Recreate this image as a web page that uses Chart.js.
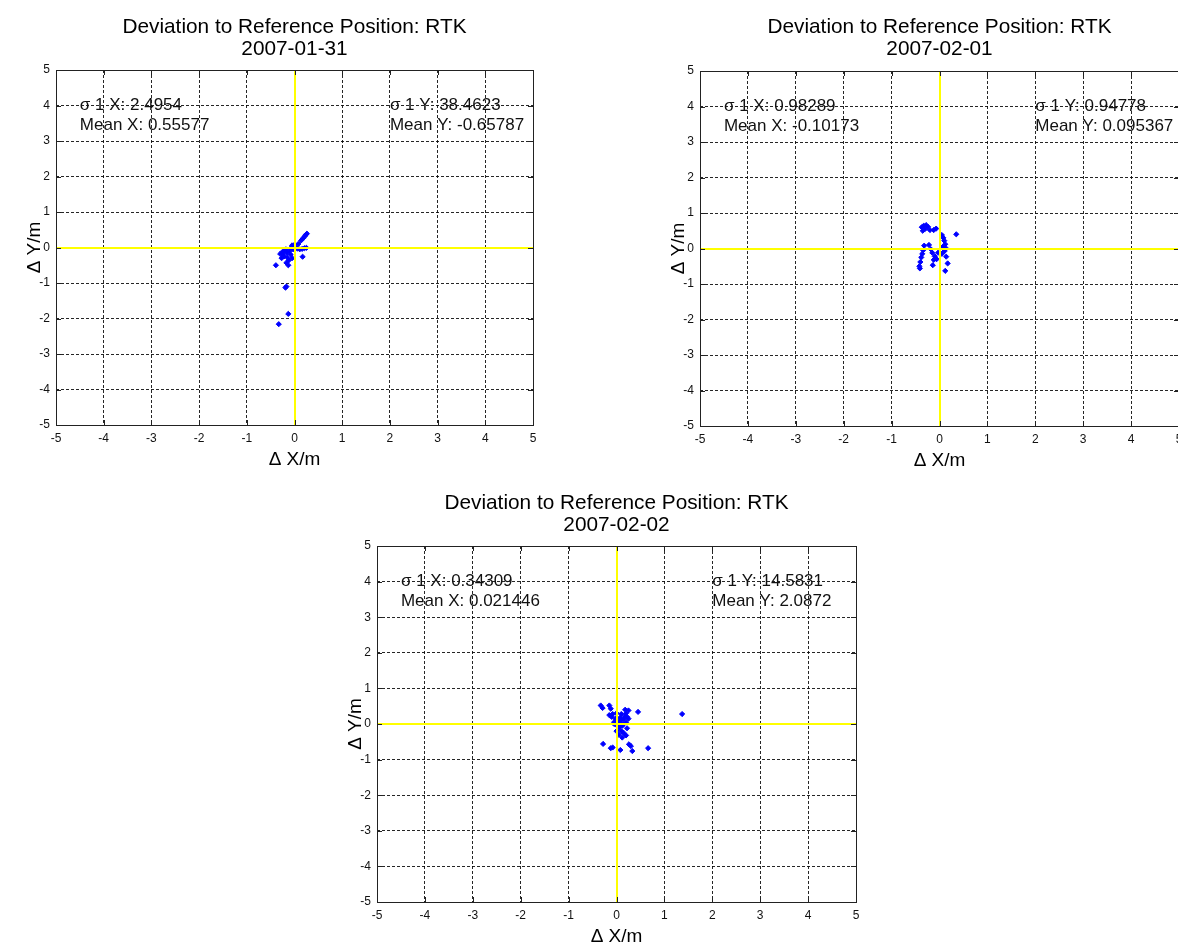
<!DOCTYPE html>
<html>
<head>
<meta charset="utf-8">
<script src="https://cdn.jsdelivr.net/npm/chart.js@4.4.0/dist/chart.umd.min.js"></script>
<style>
  html, body { margin: 0; padding: 0; background: #fff; overflow: hidden; }
  body { width: 1178px; height: 945px; position: relative; }
  canvas { position: absolute; }
</style>
</head>
<body>
<canvas id="day1" width="560" height="480" style="left:0;top:0"></canvas>
<canvas id="day2" width="560" height="480" style="left:640px;top:0"></canvas>
<canvas id="day3" width="560" height="480" style="left:320px;top:478px"></canvas>
<script>
// RTK position deviation per day (metres)
var days = ["2007-01-31", "2007-02-01", "2007-02-02"];
var axisTicks = [-5, -4, -3, -2, -1, 0, 1, 2, 3, 4, 5];

var day1X = [0.14, 0.18, 0.21, 0.24, 0.26, -0.05, 0.00, -0.08, 0.02, -0.03,
  0.06, 0.11, 0.16, 0.21, 0.25, 0.17, -0.30, -0.25, -0.20, -0.15, -0.10,
  -0.22, -0.15, -0.08, -0.05, -0.27, -0.12, -0.39, -0.13, -0.17, -0.17,
  -0.19, -0.13, -0.33, -0.18, -0.24, 0.08];
var day1Y = [0.20, 0.26, 0.31, 0.36, 0.39, 0.06, 0.08, -0.02, 0.00, -0.05,
  -0.03, -0.05, -0.04, -0.02, -0.01, -0.26, -0.18, -0.12, -0.08, -0.15, -0.10,
  -0.25, -0.28, -0.20, -0.30, -0.30, -0.36, -0.50, -0.50, -0.43, -1.10,
  -1.13, -1.87, -2.16, -0.05, -0.20, 0.10];

var day2X = [-0.37, -0.33, -0.28, -0.24, -0.20, -0.30, -0.35, -0.12, -0.07,
  0.05, 0.08, 0.10, 0.12, 0.07, 0.14, 0.10, 0.05, 0.35, -0.32, -0.34, -0.36,
  -0.38, -0.40, -0.42, -0.41, -0.22, -0.18, -0.15, -0.10, -0.06, -0.12,
  -0.14, 0.14, 0.17, 0.12, -0.03, 0.07];
var day2Y = [0.60, 0.64, 0.66, 0.61, 0.52, 0.55, 0.50, 0.52, 0.56,
  0.38, 0.30, 0.22, 0.12, 0.05, 0.00, -0.08, -0.15, 0.40, 0.08, -0.05, -0.15,
  -0.25, -0.38, -0.50, -0.56, 0.10, -0.02, -0.12, -0.22, -0.30, -0.32,
  -0.47, -0.23, -0.42, -0.63, -0.12, 0.02];

var day3X = [-0.33, -0.29, -0.15, -0.12, 0.25, 0.20, 0.22, 0.15, 0.10, 0.05,
  -0.05, -0.10, -0.15, 0.00, 0.15, 0.20, 0.25, 0.05, 0.10, 0.15, 0.20, 0.05,
  0.00, -0.05, 0.10, 0.18, 0.08, -0.02, 0.12, 0.02, 0.08, 0.45, 1.37, -0.28,
  -0.12, -0.08, 0.08, 0.26, 0.30, 0.33, 0.66, -0.08, 0.18, 0.12, 0.00, 0.22];
var day3Y = [0.52, 0.45, 0.52, 0.43, 0.38, 0.30, 0.20, 0.15, 0.10, 0.05,
  0.05, 0.20, 0.25, 0.12, 0.00, 0.05, 0.15, -0.10, -0.20, -0.25, -0.32, -0.30,
  -0.20, 0.00, 0.28, 0.40, 0.18, 0.15, -0.05, -0.05, 0.00, 0.34, 0.28, -0.56,
  -0.68, -0.66, -0.73, -0.57, -0.62, -0.76, -0.68, 0.28, 0.22, -0.38, 0.30, -0.12];

var sigmaX = ["2.4954", "0.98289", "0.34309"];
var sigmaY = ["38.4623", "0.94778", "14.5831"];
var meanX = ["0.55577", "-0.10173", "0.021446"];
var meanY = ["-0.65787", "0.095367", "2.0872"];

var FONT = "'Liberation Sans', Arial, sans-serif";

// frame box, inward tick marks, yellow zero lines and the statistics text
var matlabAxes = {
  id: "matlabAxes",
  afterDatasetsDraw: function (chart) {
    var ctx = chart.ctx, a = chart.chartArea;
    var sx = chart.scales.x, sy = chart.scales.y;
    ctx.save();

    var x0 = Math.round(sx.getPixelForValue(0));
    var y0 = Math.round(sy.getPixelForValue(0));
    ctx.strokeStyle = "#ffff00";
    ctx.lineWidth = 2;
    ctx.beginPath();
    ctx.moveTo(x0, a.top); ctx.lineTo(x0, a.bottom);
    ctx.moveTo(a.left, y0); ctx.lineTo(a.right, y0);
    ctx.stroke();

    ctx.strokeStyle = "#222";
    ctx.lineWidth = 1;
    ctx.strokeRect(Math.round(a.left) + 0.5, Math.round(a.top) + 0.5,
      Math.round(a.right - a.left), Math.round(a.bottom - a.top));
    ctx.beginPath();
    axisTicks.forEach(function (v) {
      var px = Math.round(sx.getPixelForValue(v)) + 0.5;
      var py = Math.round(sy.getPixelForValue(v)) + 0.5;
      ctx.moveTo(px, a.bottom); ctx.lineTo(px, a.bottom - 5);
      ctx.moveTo(px, a.top); ctx.lineTo(px, a.top + 5);
      ctx.moveTo(a.left, py); ctx.lineTo(a.left + 5, py);
      ctx.moveTo(a.right, py); ctx.lineTo(a.right - 5, py);
    });
    ctx.stroke();

    var i = chart.options.plugins.matlabAxes.day;
    ctx.fillStyle = "#111";
    ctx.font = "17px " + FONT;
    ctx.textBaseline = "middle";
    ctx.textAlign = "left";
    var xl = sx.getPixelForValue(-4.5), xr = sx.getPixelForValue(2.0);
    var y1 = sy.getPixelForValue(4.0), y2 = sy.getPixelForValue(3.44);
    ctx.fillText("\u03c3 1 X: " + sigmaX[i], xl, y1);
    ctx.fillText("Mean X: " + meanX[i], xl, y2);
    ctx.fillText("\u03c3 1 Y: " + sigmaY[i], xr, y1);
    ctx.fillText("Mean Y: " + meanY[i], xr, y2);
    ctx.restore();
  }
};

function points(xs, ys) {
  return xs.map(function (x, k) { return { x: x, y: ys[k] }; });
}

// box = canvas position on page, plot = axes rectangle on page
function buildPlot(id, day, box, plot, titleY, xs, ys) {
  var W = 560, H = 480;
  var titleSize = 20.8, titleLH = 22;
  var titleH = plot.t - box.top;
  var padTop = titleY - box.top - titleLH / 2;
  var yWidth = plot.l - box.left;
  var xHeight = box.top + H - plot.b;
  var labelSize = 19, labelLH = 19 * 1.2;

  var tickFont = { family: FONT, size: 12 };
  var gridOpts = { color: "rgba(0,0,0,0.85)", lineWidth: 1, drawTicks: false };
  var borderOpts = { display: false, dash: [3, 2] };

  return new Chart(document.getElementById(id), {
    type: "scatter",
    data: {
      datasets: [
        {
          data: points(xs, ys),
          pointStyle: "rectRot", pointRadius: 2.6,
          backgroundColor: "#0000ff", borderColor: "#0000ff", borderWidth: 1
        }
      ]
    },
    options: {
      responsive: false,
      animation: false,
      layout: {
        autoPadding: false,
        padding: { left: 0, top: 0, bottom: 0, right: box.left + W - plot.r }
      },
      plugins: {
        legend: { display: false },
        tooltip: { enabled: false },
        title: {
          display: true,
          fullSize: false,
          text: ["Deviation to Reference Position: RTK", days[day]],
          color: "#000",
          font: { family: FONT, size: titleSize, weight: "normal", lineHeight: titleLH / titleSize },
          padding: { top: padTop, bottom: titleH - padTop - 2 * titleLH }
        },
        matlabAxes: { day: day }
      },
      scales: {
        x: {
          type: "linear", min: -5, max: 5,
          ticks: { stepSize: 1, autoSkip: false, maxRotation: 0, padding: 6,
            color: "#111", font: tickFont },
          grid: gridOpts, border: borderOpts,
          title: { display: true, text: "\u0394 X/m", color: "#000",
            font: { family: FONT, size: labelSize },
            padding: { top: 0, bottom: xHeight - 35 - labelLH / 2 } },
          afterFit: function (s) { s.height = xHeight; }
        },
        y: {
          type: "linear", min: -5, max: 5,
          ticks: { stepSize: 1, autoSkip: false, padding: 6,
            color: "#111", font: tickFont },
          grid: gridOpts, border: borderOpts,
          title: { display: true, text: "\u0394 Y/m", color: "#000",
            font: { family: FONT, size: labelSize },
            padding: { top: yWidth - 21 - labelLH / 2, bottom: 0 } },
          afterFit: function (s) { s.width = yWidth; }
        }
      }
    },
    plugins: [matlabAxes]
  });
}

buildPlot("day1", 0, { left: 0, top: 0 }, { l: 56, r: 533, t: 70, b: 425 }, 27, day1X, day1Y);
buildPlot("day2", 1, { left: 640, top: 0 }, { l: 700, r: 1179, t: 71, b: 426 }, 27, day2X, day2Y);
buildPlot("day3", 2, { left: 320, top: 478 }, { l: 377, r: 856, t: 546, b: 902 }, 503, day3X, day3Y);
</script>
</body>
</html>
